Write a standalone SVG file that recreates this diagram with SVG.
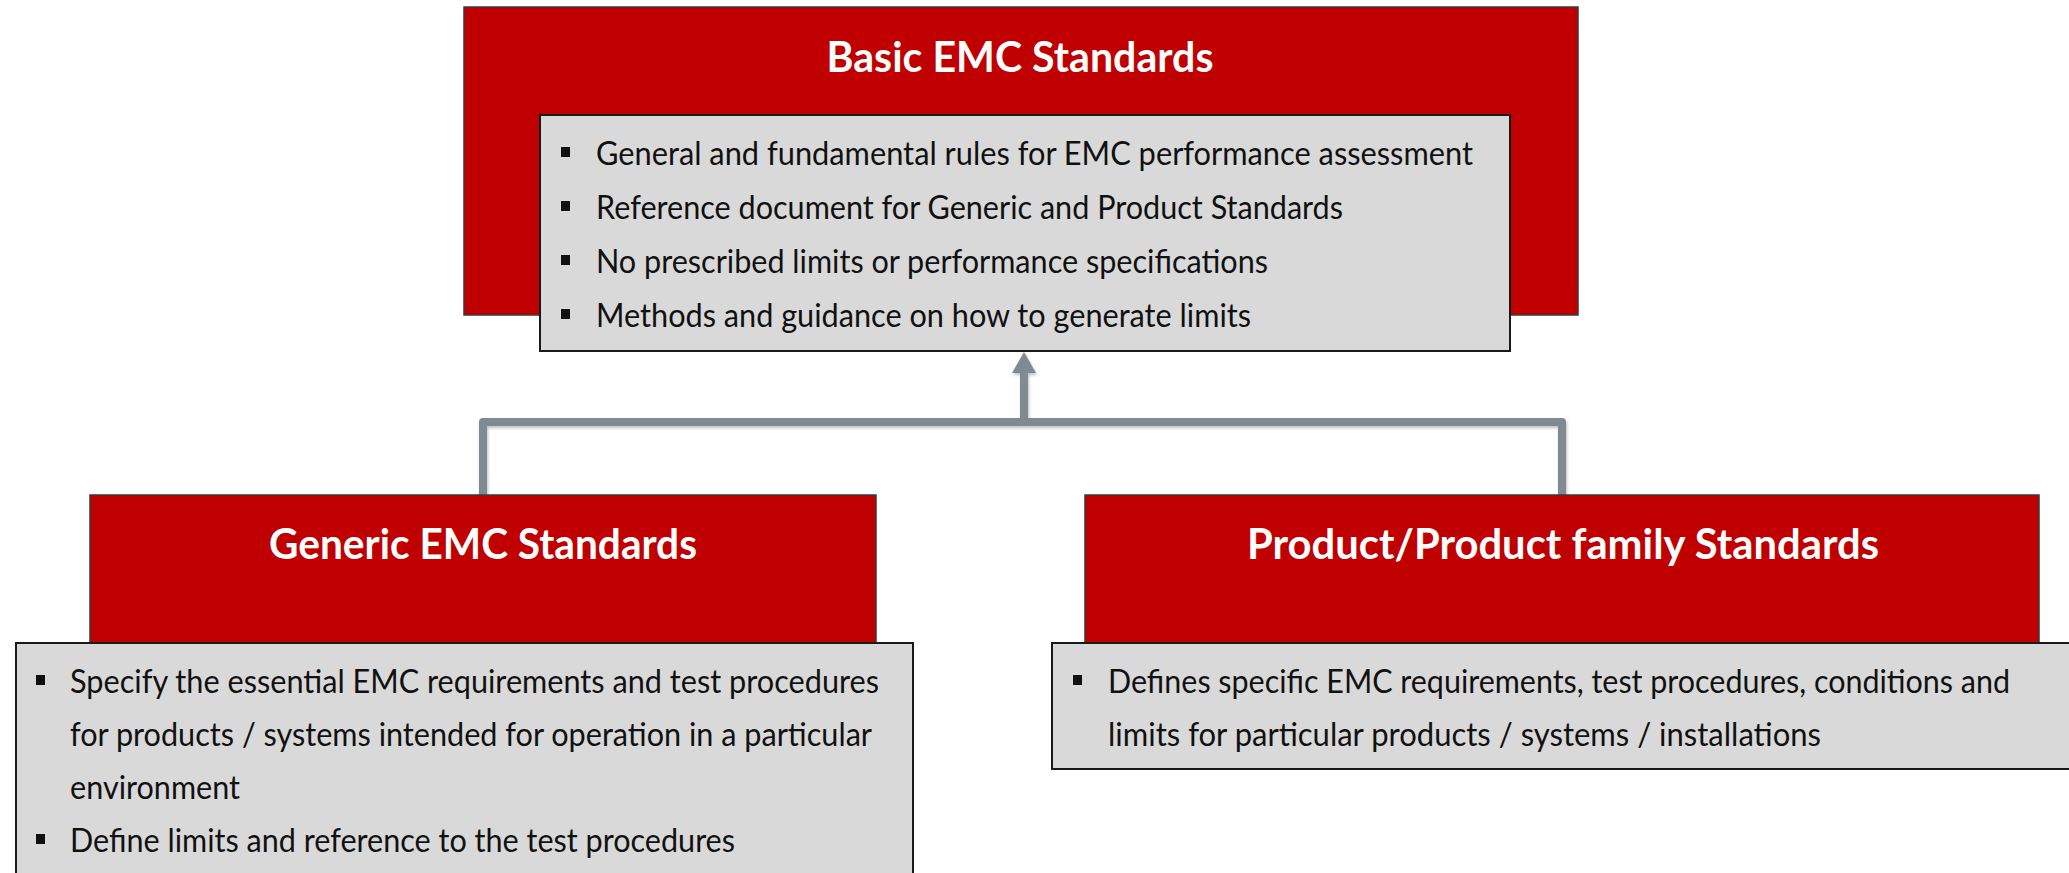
<svg xmlns="http://www.w3.org/2000/svg" width="2069" height="873" viewBox="0 0 2069 873">
<style>
.red{fill:#C00000;stroke:#3a3a3a;stroke-width:1.5}
.gray{fill:#D9D9D9;stroke:#1a1a1a;stroke-width:2}
.title{font-family:Lato,"Liberation Sans",sans-serif;font-weight:bold;font-size:42px;fill:#ffffff;text-anchor:middle}
.body{font-family:Lato,"Liberation Sans",sans-serif;font-size:32px;fill:#111111}
.bul{fill:#111111}
.conn{fill:none;stroke:#7F8A92;stroke-width:8;stroke-linejoin:round;stroke-linecap:butt}
</style>
<defs>
<filter id="sh" x="-5%" y="-5%" width="110%" height="120%">
<feDropShadow dx="1" dy="2" stdDeviation="1.5" flood-color="#000" flood-opacity="0.25"/>
</filter>
</defs>
<rect width="2069" height="873" fill="#ffffff"/>
<g id="connectors" filter="url(#sh)">
<path class="conn" d="M483,495 L483,422 L1562,422 L1562,495"/>
<path class="conn" d="M1024,422 L1024,372"/>
<path d="M1012,373 L1024,352 L1036,373 Z" fill="#7F8A92"/>
</g>
<g id="basic">
<rect class="red" x="464" y="7" width="1114" height="308"/>
<text class="title" x="1020" y="72" textLength="387" lengthAdjust="spacingAndGlyphs">Basic EMC Standards</text>
<rect class="gray" x="540" y="115" width="970" height="236"/>
<rect class="bul" x="561" y="147" width="9" height="10"/>
<text class="body" x="596" y="165" textLength="877" lengthAdjust="spacingAndGlyphs">General and fundamental rules for EMC performance assessment</text>
<rect class="bul" x="561" y="201" width="9" height="10"/>
<text class="body" x="596" y="219" textLength="747" lengthAdjust="spacingAndGlyphs">Reference document for Generic and Product Standards</text>
<rect class="bul" x="561" y="255" width="9" height="10"/>
<text class="body" x="596" y="273" textLength="672" lengthAdjust="spacingAndGlyphs">No prescribed limits or performance specifications</text>
<rect class="bul" x="561" y="309" width="9" height="10"/>
<text class="body" x="596" y="327" textLength="655" lengthAdjust="spacingAndGlyphs">Methods and guidance on how to generate limits</text>
</g>
<g id="generic">
<rect class="red" x="90" y="495" width="786" height="148"/>
<text class="title" x="483" y="559" textLength="428" lengthAdjust="spacingAndGlyphs">Generic EMC Standards</text>
<rect class="gray" x="16" y="643" width="897" height="245"/>
<rect class="bul" x="36" y="675" width="9" height="10"/>
<text class="body" x="70" y="693" textLength="809" lengthAdjust="spacingAndGlyphs">Specify the essential EMC requirements and test procedures</text>
<text class="body" x="70" y="746" textLength="802" lengthAdjust="spacingAndGlyphs">for products / systems intended for operation in a particular</text>
<text class="body" x="70" y="799" textLength="170" lengthAdjust="spacingAndGlyphs">environment</text>
<rect class="bul" x="36" y="834" width="9" height="10"/>
<text class="body" x="70" y="852" textLength="665" lengthAdjust="spacingAndGlyphs">Define limits and reference to the test procedures</text>
</g>
<g id="product">
<rect class="red" x="1085" y="495" width="954" height="148"/>
<text class="title" x="1563" y="559" textLength="632" lengthAdjust="spacingAndGlyphs">Product/Product family Standards</text>
<rect class="gray" x="1052" y="643" width="1030" height="126"/>
<rect class="bul" x="1073" y="675" width="9" height="10"/>
<text class="body" x="1108" y="693" textLength="902" lengthAdjust="spacingAndGlyphs">Defines specific EMC requirements, test procedures, conditions and</text>
<text class="body" x="1108" y="746" textLength="713" lengthAdjust="spacingAndGlyphs">limits for particular products / systems / installations</text>
</g>
</svg>
